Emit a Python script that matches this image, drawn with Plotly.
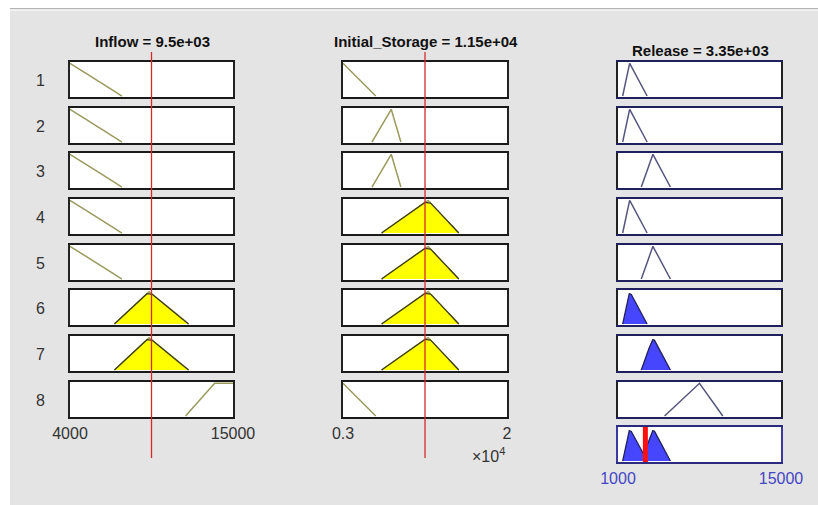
import numpy as np
import plotly.graph_objects as go

W, H = 818, 505

# ---------------- data ----------------
rule_labels = ["1", "2", "3", "4", "5", "6", "7", "8"]
inflow_range = [4000, 15000]
storage_range = [3000, 20000]
release_range = [1000, 15000]
inflow_value = 9500
storage_value = 11500
release_value = 3350
inflow_ticks = ["4000", "15000"]
storage_ticks = ["0.3", "2"]
release_ticks = ["1000", "15000"]

# trapezoid parameters [a, b, c, d] per rule (triangles have b == c)
inflow_mf = [
    [4000, 4000, 4000, 7500],
    [4000, 4000, 4000, 7500],
    [4000, 4000, 4000, 7500],
    [4000, 4000, 4000, 7500],
    [4000, 4000, 4000, 7500],
    [7000, 9300, 9300, 12000],
    [7000, 9300, 9300, 12000],
    [11800, 13700, 15000, 15000],
]
storage_mf = [
    [3000, 3000, 3000, 6400],
    [6000, 8000, 8000, 9000],
    [6000, 8000, 8000, 9000],
    [7000, 11800, 11800, 15000],
    [7000, 11800, 11800, 15000],
    [7000, 11800, 11800, 15000],
    [7000, 11800, 11800, 15000],
    [3000, 3000, 3000, 6400],
]
release_mf = [
    [1400, 2000, 2000, 3500],
    [1400, 2000, 2000, 3500],
    [3000, 4000, 4000, 5500],
    [1400, 2000, 2000, 3500],
    [3000, 4000, 4000, 5500],
    [1400, 2000, 2000, 3500],
    [3000, 4000, 4000, 5500],
    [5000, 8000, 8000, 10000],
]


def trap(x, p):
    a, b, c, d = p
    if b == a:
        left = (x >= a).astype(float)
    else:
        left = np.clip((x - a) / (b - a), 0, 1)
    if d == c:
        right = (x <= d).astype(float)
    else:
        right = np.clip((d - x) / (d - c), 0, 1)
    return np.minimum(left, right)


def grid(rng, params):
    pts = [v for p in params for v in p if rng[0] <= v <= rng[1]]
    return np.unique(np.concatenate([np.linspace(rng[0], rng[1], 1201), pts]))


def support(y):
    m = y > 0
    m2 = m.copy()
    m2[1:] |= m[:-1]
    m2[:-1] |= m[1:]
    return m2


# ---------------- layout geometry (px) ----------------
col_x = [(70, 233), (343, 507), (618, 781)]
row_top = [62, 108, 153, 199, 245, 290, 336, 382, 427]
row_h = 35
YR = [-0.03, 1.04]

OLIVE = "#9a9a5e"
DARKOL = "#3c3c14"
YELLOW = "#ffff00"
BLUE = "#4646ff"
NAVY = "#20205e"
SLATE = "#55557f"
TXT = "#333333"
BLUETXT = "#4444c4"

fig = go.Figure()
layout = {}
ax_id = [0]


def add_axis(col, row, rng, ticks=None, tick_color=TXT, frame="#222222", bottom="#1a1a1a"):
    ax_id[0] += 1
    k = ax_id[0]
    x0, x1 = col_x[col]
    top = row_top[row]
    xa = dict(
        domain=[x0 / W, x1 / W], range=rng, anchor="y%d" % k, automargin=False,
        showgrid=False, zeroline=False, showline=True, mirror=True,
        linecolor=bottom, linewidth=2, fixedrange=True,
    )
    if ticks:
        xa.update(tickmode="array", tickvals=rng, ticktext=ticks, ticks="outside",
                  ticklen=1, tickcolor="rgba(0,0,0,0)",
                  tickfont=dict(size=16, color=tick_color, family="Liberation Sans, Arial"))
    else:
        xa.update(showticklabels=False, ticks="")
    ya = dict(
        domain=[1 - (top + row_h) / H, 1 - top / H], range=YR, anchor="x%d" % k,
        automargin=False, showgrid=False, zeroline=False, showline=True, mirror=True,
        linecolor=frame, linewidth=1.5, showticklabels=False, ticks="", fixedrange=True,
    )
    layout["xaxis%d" % k] = xa
    layout["yaxis%d" % k] = ya
    return ("x%d" % k, "y%d" % k)


xin = grid(inflow_range, inflow_mf)
xst = grid(storage_range, storage_mf)
xre = grid(release_range, release_mf)

firing = []
input_axes = {}
for r in range(8):
    mu_in = float(trap(np.array([inflow_value]), inflow_mf[r])[0])
    mu_st = float(trap(np.array([storage_value]), storage_mf[r])[0])
    firing.append(min(mu_in, mu_st))
    for col, (xs, rng, params, val, mu) in enumerate([
        (xin, inflow_range, inflow_mf[r], inflow_value, mu_in),
        (xst, storage_range, storage_mf[r], storage_value, mu_st),
    ]):
        ticks = None
        if r == 7:
            ticks = inflow_ticks if col == 0 else storage_ticks
        xr, yr = add_axis(col, r, rng, ticks)
        input_axes.setdefault(col, xr)
        y = trap(xs, params)
        m = support(y)
        fig.add_trace(go.Scatter(x=xs[m], y=y[m], xaxis=xr, yaxis=yr, mode="lines",
                                 line=dict(color=OLIVE, width=1.5), hoverinfo="skip"))
        if mu > 0:
            fig.add_trace(go.Scatter(x=xs[m], y=np.minimum(y[m], mu), xaxis=xr, yaxis=yr,
                                     mode="lines", fill="tozeroy", fillcolor=YELLOW,
                                     line=dict(color=DARKOL, width=1.3), hoverinfo="skip"))

agg = np.zeros_like(xre)
for r in range(8):
    xr, yr = add_axis(2, r, release_range, None, bottom=NAVY)
    y = trap(xre, release_mf[r])
    m = support(y)
    if firing[r] > 0:
        clipped = np.minimum(y, firing[r])
        agg = np.maximum(agg, clipped)
        fig.add_trace(go.Scatter(x=xre[m], y=clipped[m], xaxis=xr, yaxis=yr, mode="lines",
                                 fill="tozeroy", fillcolor=BLUE,
                                 line=dict(color=NAVY, width=1.3), hoverinfo="skip"))
    else:
        fig.add_trace(go.Scatter(x=xre[m], y=y[m], xaxis=xr, yaxis=yr, mode="lines",
                                 line=dict(color=SLATE, width=1.5), hoverinfo="skip"))

xr9, yr9 = add_axis(2, 8, release_range, release_ticks, tick_color=BLUETXT,
                    frame="#3a3aa0", bottom="#2a2a80")
m = support(agg)
fig.add_trace(go.Scatter(x=xre[m], y=agg[m], xaxis=xr9, yaxis=yr9, mode="lines",
                         fill="tozeroy", fillcolor=BLUE,
                         line=dict(color=NAVY, width=1.3), hoverinfo="skip"))

shapes = [
    dict(type="rect", xref="paper", yref="paper", x0=0, x1=10 / W, y0=0, y1=1,
         fillcolor="white", line=dict(width=0), layer="below"),
    dict(type="rect", xref="paper", yref="paper", x0=0, x1=1, y0=1 - 8 / H, y1=1,
         fillcolor="white", line=dict(width=0), layer="below"),
    dict(type="rect", xref="paper", yref="paper", x0=10 / W, x1=1, y0=1 - 9.2 / H, y1=1 - 8 / H,
         fillcolor="#b4b4b4", line=dict(width=0), layer="below"),
    dict(type="rect", xref="paper", yref="paper", x0=10 / W, x1=1, y0=1 - 11 / H, y1=1 - 9.2 / H,
         fillcolor="#f2f2f2", line=dict(width=0), layer="below"),
]
for col, val in [(0, inflow_value), (1, storage_value)]:
    shapes.append(dict(type="line", xref=input_axes[col], yref="paper", x0=val, x1=val,
                       y0=1 - 458 / H, y1=1 - 52 / H, line=dict(color="#d42a2a", width=1.3),
                       layer="above"))
shapes.append(dict(type="line", xref=xr9, yref=yr9, x0=release_value, x1=release_value,
                   y0=YR[0], y1=YR[1], line=dict(color="#ff1010", width=5), layer="above"))

FONT = "Liberation Sans, Arial, Helvetica"
ann = []
titles = [
    ("Inflow = %.1e" % inflow_value, 152, 42),
    ("Initial_Storage = %.2e" % storage_value, 426, 42),
    ("Release = %.2e" % release_value, 700, 51),
]
for t, cx, cy in titles:
    ann.append(dict(text="<b>%s</b>" % t, x=cx / W, y=1 - cy / H, xref="paper", yref="paper",
                    showarrow=False, xanchor="center", yanchor="middle",
                    font=dict(size=15, color="#111111", family=FONT)))
for r, lab in enumerate(rule_labels):
    ann.append(dict(text=lab, x=40 / W, y=1 - (row_top[r] + row_h / 2 + 1) / H, xref="paper",
                    yref="paper", showarrow=False, xanchor="center", yanchor="middle",
                    font=dict(size=16, color=TXT, family=FONT)))
ann.append(dict(text="×10<sup>4</sup>", x=488 / W, y=1 - 455 / H, xref="paper", yref="paper",
                showarrow=False, xanchor="center", yanchor="middle",
                font=dict(size=16, color=TXT, family=FONT)))

fig.update_layout(
    width=W, height=H, margin=dict(l=0, r=0, t=0, b=0, pad=0, autoexpand=False),
    paper_bgcolor="#e4e4e4", plot_bgcolor="white", showlegend=False,
    shapes=shapes, annotations=ann, font=dict(family=FONT), **layout,
)
fig.write_html(
    "out.html",
    config={"displayModeBar": False, "responsive": False},
    post_script="document.body.style.margin='0';document.body.style.padding='0';"
                "document.body.style.overflow='hidden';",
)
